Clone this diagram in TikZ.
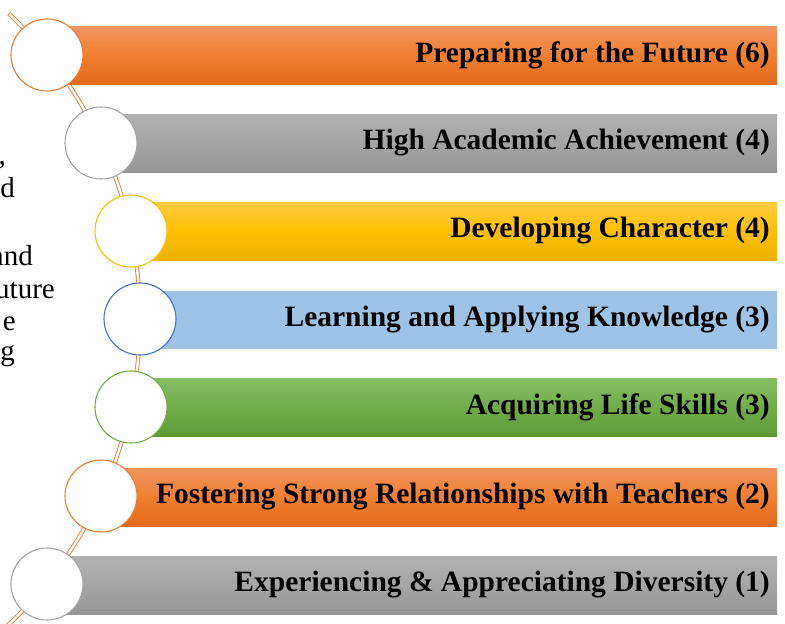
\documentclass[tikz,border=0pt]{standalone}
\usepackage{fontspec}
\setmainfont{Liberation Serif}
\definecolor{accOrange}{HTML}{ED7D31}
\definecolor{accGray}{HTML}{A5A5A5}
\definecolor{accGold}{HTML}{FFC000}
\definecolor{accBlue}{HTML}{4472C4}
\definecolor{accGreen}{HTML}{70AD47}
\definecolor{barBlue}{HTML}{9DC3E6}
\definecolor{orTop}{HTML}{F29560}\definecolor{orMid}{HTML}{F07F30}\definecolor{orBot}{HTML}{E26B1A}
\definecolor{grTop}{HTML}{B1B1B1}\definecolor{grMid}{HTML}{A5A5A5}\definecolor{grBot}{HTML}{959595}
\definecolor{ylTop}{HTML}{FFCB45}\definecolor{ylMid}{HTML}{FFC000}\definecolor{ylBot}{HTML}{EAB200}
\definecolor{gnTop}{HTML}{86BD64}\definecolor{gnMid}{HTML}{70AD47}\definecolor{gnBot}{HTML}{5E9A38}
\begin{document}
\begin{tikzpicture}[x=1pt,y=-1pt,
  bar/.style={rectangle, anchor=west, inner sep=0pt, minimum height=58pt, draw=none},
  orangebar/.style={bar, top color=orTop, bottom color=orBot, middle color=orMid},
  graybar/.style={bar, top color=grTop, bottom color=grBot, middle color=grMid},
  goldbar/.style={bar, top color=ylTop, bottom color=ylBot, middle color=ylMid},
  bluebar/.style={bar, fill=barBlue},
  greenbar/.style={bar, top color=gnTop, bottom color=gnBot, middle color=gnMid},
  ring/.style={circle, fill=white, line width=1.1pt, minimum size=72pt, inner sep=0pt},
  label/.style={anchor=east, inner sep=0pt, font=\fontsize{29.5}{34}\selectfont\bfseries},
  side/.style={anchor=base east, inner sep=0pt, font=\fontsize{29}{33}\selectfont, text=black},
  spine/.style={draw=accOrange, line width=0.9pt, double=white, double distance=2.4pt, line cap=rect}
]
\useasboundingbox (0,0) rectangle (785,624);
\clip (0,0) rectangle (785,624);

% paragraph fragments at the left edge
\node[side] (s1) at (6,164) {,};
\node[side] (s2) at (15,197) {d};
\node[side] (s3) at (33,265) {and};
\node[side] (s4) at (55,298) {uture};
\node[side] (s5) at (16,330) {e};
\node[side] (s6) at (15,360) {g};

% curved spine behind the circles
\draw[spine] plot[domain=-46.2:48, samples=120, smooth] ({-281+421*cos(\x)},{319+421*sin(\x)});

% bars
\node[orangebar, minimum width=730pt] (b1) at (47,55.5) {};
\node[graybar,   minimum width=676pt] (b2) at (101,143) {};
\node[goldbar,   minimum width=646pt] (b3) at (131,231) {};
\node[bluebar,   minimum width=637pt] (b4) at (140,319.5) {};
\node[greenbar,  minimum width=646pt] (b5) at (131,407.5) {};
\node[orangebar, minimum width=676pt] (b6) at (101,497) {};
\node[graybar,   minimum width=730pt] (b7) at (47,585) {};

% circles
\node[ring, draw=accOrange] (c1) at (47,55) {};
\node[ring, draw=accGray]   (c2) at (101,143) {};
\node[ring, draw=accGold]   (c3) at (131,231) {};
\node[ring, draw=accBlue]   (c4) at (140,319) {};
\node[ring, draw=accGreen]  (c5) at (131,407) {};
\node[ring, draw=accOrange] (c6) at (101,496) {};
\node[ring, draw=accGray]   (c7) at (47,584) {};

% labels
\node[label] (t1) at (770,55.5)  {Preparing for the Future (6)};
\node[label] (t2) at (770,143)   {High Academic Achievement (4)};
\node[label] (t3) at (770,231)   {Developing Character (4)};
\node[label] (t4) at (770,319.5) {Learning and Applying Knowledge (3)};
\node[label] (t5) at (770,407.5) {Acquiring Life Skills (3)};
\node[label] (t6) at (770,497)   {Fostering Strong Relationships with Teachers (2)};
\node[label] (t7) at (770,585)   {Experiencing \& Appreciating Diversity (1)};
\end{tikzpicture}
\end{document}
